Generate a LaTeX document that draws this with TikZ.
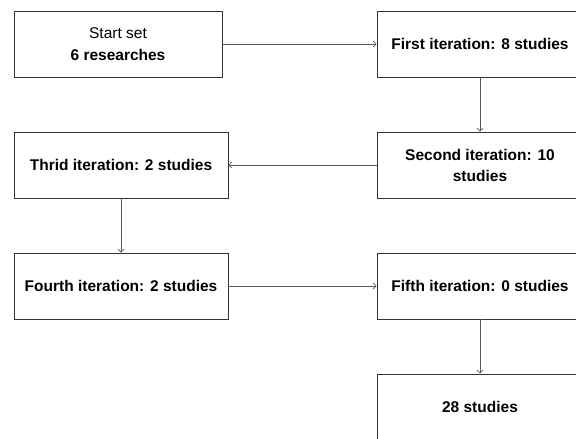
\documentclass[tikz,border=0pt]{standalone}
\usepackage{fontspec}
\setmainfont{Liberation Sans}
\usetikzlibrary{positioning,arrows.meta}

\begin{document}
\begin{tikzpicture}[node distance=121pt, on grid, font=\fontsize{15.5}{21}\selectfont,
    iter/.style={draw=black!80, line width=0.8pt, minimum width=206pt, inner xsep=2pt,
      minimum height=66pt, align=center, font=\fontsize{15.5}{21}\selectfont\bfseries},
    flow/.style={draw=black!65, line width=0.7pt, -{Straight Barb[length=3pt,width=6pt]}}]
    \clip (0,0) rectangle (576pt,-439pt);%
    \node[iter, minimum width=208pt, font=\fontsize{15.5}{22}\selectfont] (start) at (118pt,-44pt)
    {Start set\\\textbf{6 researches}};%
    \node[iter] (first) [right=362pt of start] {First iteration: 8 studies};%
    \node[iter] (second) [below=of first] {Second iteration: 10\\studies};%
    \node[iter, minimum width=214pt] (third) [left=359pt of second] {Thrid iteration: 2 studies};%
    \node[iter, minimum width=214pt] (fourth) [below=of third] {Fourth iteration: 2 studies};%
    \node[iter] (fifth) [right=359pt of fourth] {Fifth iteration: 0 studies};%
    \node[iter] (final) [below=of fifth] {28 studies};%
    \path[flow] (start) edge (first)%
    (first) edge (second)%
    (second) edge (third)%
    (third) edge (fourth)%
    (fourth) edge (fifth)%
    (fifth) edge (final);%
  \end{tikzpicture}
\end{document}
